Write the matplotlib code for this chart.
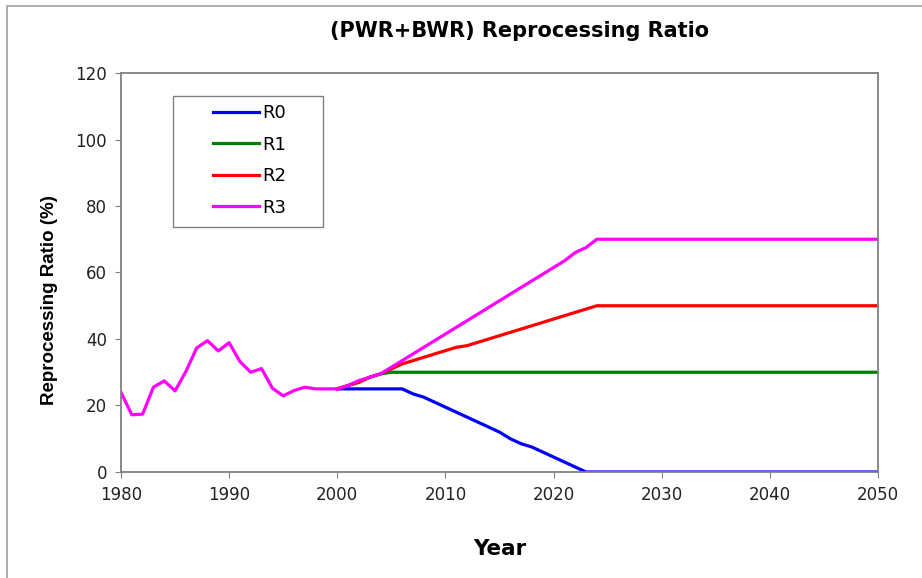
import matplotlib.pyplot as plt
from matplotlib.patches import Rectangle

plt.rcParams['font.family'] = ['DejaVu Sans']

# historical part (shared by all scenarios)
hist_years = list(range(1980, 2001))
hist_ratio = [24, 17.2, 17.4, 25.5, 27.4, 24.4, 30.2, 37.3, 39.5, 36.4, 38.9,
              33.2, 30, 31.1, 25.2, 22.9, 24.5, 25.5, 25, 25, 25]

# scenarios after 2000
r0_years = [2000, 2006, 2007, 2008, 2009, 2010, 2011, 2012, 2013, 2014, 2015,
            2016, 2017, 2018, 2019, 2020, 2021, 2022, 2023, 2050]
r0_ratio = [25, 25, 23.5, 22.5, 21, 19.5, 18, 16.5, 15, 13.5, 12,
            10, 8.5, 7.5, 6, 4.5, 3, 1.5, 0, 0]

r1_years = [2000, 2001, 2002, 2003, 2004, 2005, 2050]
r1_ratio = [25, 26, 27, 28.5, 29.5, 30, 30]

r2_years = [2000, 2001, 2002, 2003, 2004, 2005, 2006, 2007, 2008, 2009, 2010,
            2011, 2012, 2013, 2014, 2015, 2016, 2017, 2018, 2019, 2020,
            2021, 2022, 2023, 2024, 2050]
r2_ratio = [25, 26, 27, 28.5, 29.5, 31, 32.5, 33.5, 34.5, 35.5, 36.5,
            37.5, 38, 39, 40, 41, 42, 43, 44, 45, 46,
            47, 48, 49, 50, 50]

r3_years = [2000, 2001, 2002, 2003, 2004, 2005, 2006, 2007, 2008, 2009, 2010,
            2011, 2012, 2013, 2014, 2015, 2016, 2017, 2018, 2019, 2020,
            2021, 2022, 2023, 2024, 2050]
r3_ratio = [25, 26, 27.5, 28.5, 29.5, 31.5, 33.5, 35.5, 37.5, 39.5, 41.5,
            43.5, 45.5, 47.5, 49.5, 51.5, 53.5, 55.5, 57.5, 59.5, 61.5,
            63.5, 66, 67.5, 70, 70]

fig = plt.figure(figsize=(9.22, 5.78), dpi=100)
ax = fig.add_axes([0.1312, 0.1834, 0.8211, 0.6903])

lw = 2.3
ax.plot(r0_years, r0_ratio, color='#0000ff', lw=lw, label='R0')
ax.plot(r1_years, r1_ratio, color='#008000', lw=lw, label='R1')
ax.plot(r2_years, r2_ratio, color='#ff0000', lw=lw, label='R2')
ax.plot(r3_years, r3_ratio, color='#ff00ff', lw=lw, label='R3')
ax.plot(hist_years, hist_ratio, color='#ff00ff', lw=lw)

ax.set_xlim(1980, 2050)
ax.set_ylim(0, 120)
ax.set_xticks(range(1980, 2051, 10))
ax.set_yticks(range(0, 121, 20))
ax.tick_params(labelsize=12, length=4, color='#808080', pad=6, labelcolor='#222222')
for s in ax.spines.values():
    s.set_color('#808080')
    s.set_linewidth(1.3)

ax.set_title('(PWR+BWR) Reprocessing Ratio', fontsize=15, fontweight='bold',
             pad=26, x=0.526)
ax.set_xlabel('Year', fontsize=15.5, fontweight='bold', labelpad=25)
ax.set_ylabel('Reprocessing Ratio (%)', fontsize=13.5, fontweight='bold',
              family='Liberation Sans')
ax.yaxis.set_label_coords(-0.083, 0.431)

leg = ax.legend(loc='upper left', bbox_to_anchor=(0.1215, 0.922), fontsize=13,
                frameon=False, handlelength=2.55, handletextpad=0.2,
                borderpad=0, labelspacing=0.75, borderaxespad=0)
ax.add_patch(Rectangle((0.0687, 0.614), 0.1981, 0.328, transform=ax.transAxes,
                       fill=False, edgecolor='#808080', lw=1, zorder=5))

# outer chart-area border
fig.patches.append(Rectangle((7 / 922, -0.1), 1.1, (578 - 6) / 578 + 0.1,
                             transform=fig.transFigure, fill=False,
                             edgecolor='#a0a0a0', lw=1.2))

fig.savefig('out.png', dpi=100)
